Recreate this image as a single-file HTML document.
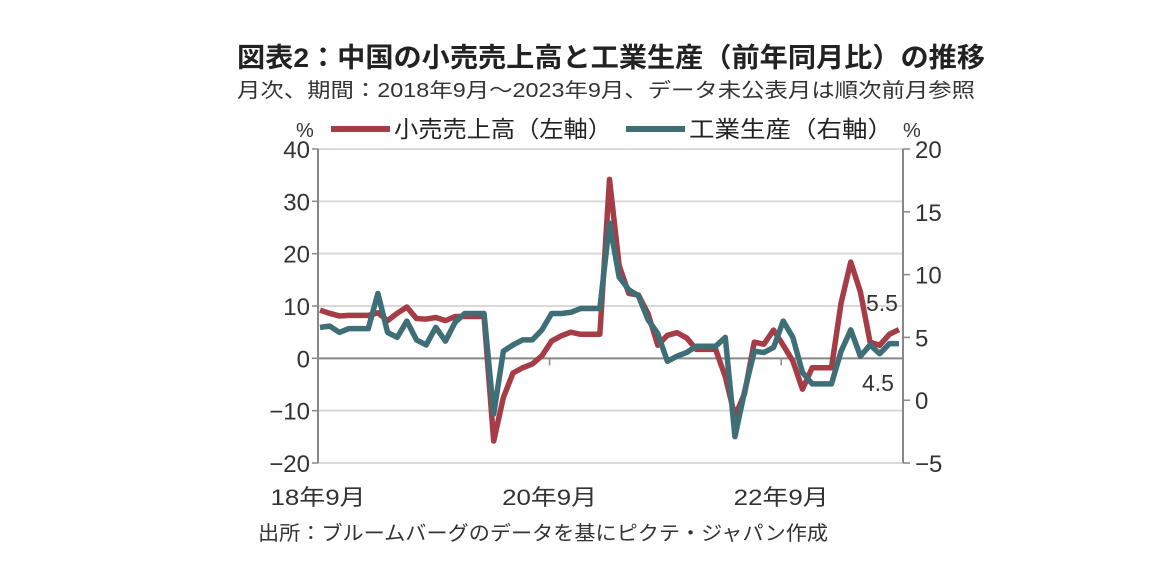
<!DOCTYPE html>
<html><head><meta charset="utf-8">
<style>
body{margin:0;background:#fff;}
svg{display:block;font-family:"Liberation Sans","Noto Sans CJK JP",sans-serif;}
</style></head>
<body>
<svg id="chart" width="1152" height="577" viewBox="0 0 1152 577">
<text x="237" y="67" font-size="27" font-weight="bold" fill="#222" textLength="748" lengthAdjust="spacingAndGlyphs">図表2：中国の小売売上高と工業生産（前年同月比）の推移</text>
<text x="237" y="97" font-size="20" fill="#333" textLength="738" lengthAdjust="spacingAndGlyphs">月次、期間：2018年9月～2023年9月、データ未公表月は順次前月参照</text>
<text x="296" y="137" font-size="20" fill="#333">%</text>
<text x="903" y="137" font-size="20" fill="#333">%</text>
<g>
<line x1="331" y1="129" x2="390" y2="129" stroke="#a63c46" stroke-width="6"/>
<text x="394" y="137" font-size="23" fill="#222" textLength="218" lengthAdjust="spacingAndGlyphs">小売売上高（左軸）</text>
<line x1="626" y1="129" x2="685" y2="129" stroke="#3e6f77" stroke-width="6"/>
<text x="689" y="137" font-size="23" fill="#222" textLength="204" lengthAdjust="spacingAndGlyphs">工業生産（右軸）</text>
</g>
<g id="grid"></g>
<g id="axes"></g>
<g id="lines"></g>
<text x="866" y="311" font-size="23" fill="#333">5.5</text>
<text x="862" y="391" font-size="23" fill="#333">4.5</text>
<text x="258" y="540" font-size="20" fill="#333" textLength="570" lengthAdjust="spacingAndGlyphs">出所：ブルームバーグのデータを基にピクテ・ジャパン作成</text>
</svg>
<script>
const retail=[9.2,8.6,8.1,8.2,8.2,8.2,8.7,7.2,8.6,9.8,7.6,7.5,7.8,7.2,8.0,8.0,8.0,8.0,-15.8,-7.5,-2.8,-1.8,-1.1,0.5,3.3,4.3,5.0,4.6,4.6,4.6,34.2,17.7,12.4,12.1,8.5,2.5,4.4,4.9,3.9,1.7,1.7,1.7,-3.5,-11.1,-6.7,3.1,2.7,5.4,2.5,-0.5,-5.9,-1.8,-1.8,-1.8,10.6,18.4,12.7,3.1,2.5,4.6,5.5];
const industry=[5.8,5.9,5.4,5.7,5.7,5.7,8.5,5.4,5.0,6.3,4.8,4.4,5.8,4.7,6.2,6.9,6.9,6.9,-1.1,3.9,4.4,4.8,4.8,5.6,6.9,6.9,7.0,7.3,7.3,7.3,14.1,9.8,8.8,8.3,6.4,5.3,3.1,3.5,3.8,4.3,4.3,4.3,5.0,-2.9,0.7,3.9,3.8,4.2,6.3,5.0,2.2,1.3,1.3,1.3,3.9,5.6,3.5,4.4,3.7,4.5,4.5];
const leftTicks=[40,30,20,10,0,-10,-20];
const rightTicks=[20,15,10,5,0,-5];
const xLabels=["18年9月","20年9月","22年9月"];
const xLabelIdx=[0,24,48];

const NS="http://www.w3.org/2000/svg";
const X0=318,X1=903,YT=149,YB=463;
const x=i=>320+i*(579/(retail.length-1));
const yL=v=>YT+(40-v)/60*(YB-YT);
const yR=v=>YT+(20-v)/25*(YB-YT);
function mk(tag,attrs,parent){const e=document.createElementNS(NS,tag);for(const k in attrs)e.setAttribute(k,attrs[k]);parent.appendChild(e);return e;}
const grid=document.getElementById('grid'),axes=document.getElementById('axes'),lines=document.getElementById('lines');
leftTicks.forEach(v=>{
  if(v!==0&&v!==-20){const g=mk('line',{x1:X0,x2:X1,y1:yL(v),y2:yL(v),stroke:'#d9d9d9','stroke-width':2},grid);
  
  }
  const t=mk('line',{x1:X0-6,x2:X0,y1:yL(v),y2:yL(v),stroke:'#888','stroke-width':1.5},axes);
  
  
  const tx=mk('text',{x:X0-8,y:yL(v)+9,'font-size':24,fill:'#333','text-anchor':'end'},axes);
  tx.textContent=(v<0?'\u2212'+(-v):v);
  
  
});
const bl=mk('line',{x1:X0,x2:X1,y1:YB,y2:YB,stroke:'#d9d9d9','stroke-width':2},grid);


rightTicks.forEach(v=>{
  const t=mk('line',{x1:X1,x2:X1+7,y1:yR(v),y2:yR(v),stroke:'#888','stroke-width':1.5},axes);
  
  
  const tx=mk('text',{x:X1+12,y:yR(v)+9,'font-size':24,fill:'#333'},axes);
  tx.textContent=(v<0?'\u2212'+(-v):v);
  
  
});
const la=mk('line',{x1:X0,x2:X0,y1:YT,y2:YB,stroke:'#888','stroke-width':2},axes);


const ra=mk('line',{x1:X1,x2:X1,y1:YT,y2:YB,stroke:'#888','stroke-width':2},axes);


const za=mk('line',{x1:X0,x2:X1,y1:yL(0),y2:yL(0),stroke:'#888','stroke-width':2},axes);


xLabels.forEach((s,k)=>{
  const xi=x(xLabelIdx[k])-2;
  const t=mk('line',{x1:xi,x2:xi,y1:yL(0),y2:yL(0)+7,stroke:'#888','stroke-width':1.5},axes);
  
  
  const tx=mk('text',{x:xi,y:505,'font-size':22,fill:'#333','text-anchor':'middle',textLength:95,lengthAdjust:'spacingAndGlyphs'},axes);
  tx.textContent=s;
  
  
});
const rp=mk('polyline',{points:retail.map((v,i)=>x(i)+','+yL(v)).join(' '),fill:'none',stroke:'#a63c46','stroke-width':5.5,'stroke-linejoin':'round'},lines);


const ip=mk('polyline',{points:industry.map((v,i)=>x(i)+','+yR(v)).join(' '),fill:'none',stroke:'#3e6f77','stroke-width':5.5,'stroke-linejoin':'round'},lines);


</script>
</body></html>
